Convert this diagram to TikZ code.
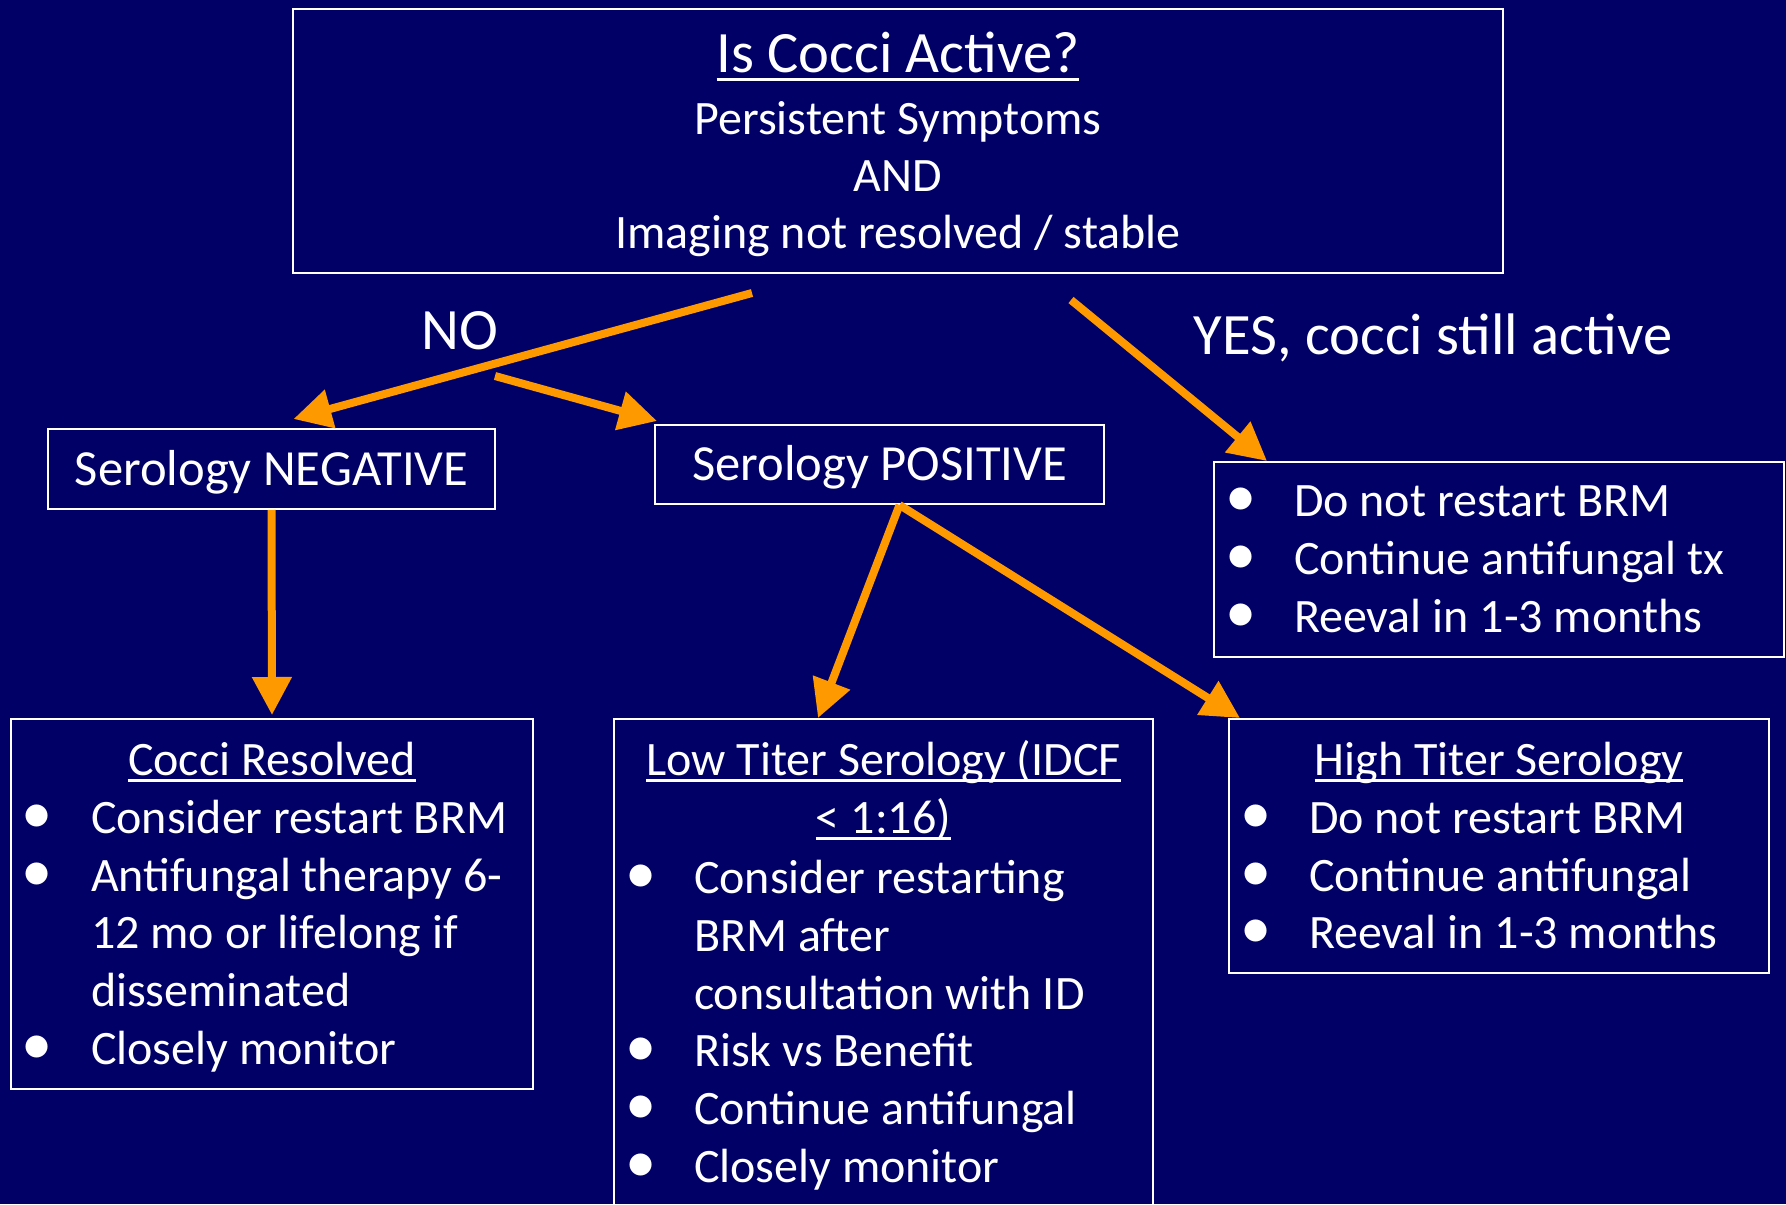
\documentclass[tikz,border=0pt]{standalone}
\usepackage{fontspec}
\setmainfont{Carlito}
\usepackage{tikz}
\usetikzlibrary{arrows.meta}
\definecolor{navy}{HTML}{000066}
\definecolor{text}{HTML}{FFFFFF}
\definecolor{orng}{HTML}{FF9900}
\newcommand{\ul}[1]{\setbox0\hbox{#1}\rlap{\rule[-0.14em]{\wd0}{0.06em}}\box0}
\newcommand{\bul}{\par\noindent\hspace*{5.5pt}\makebox[34.5pt][l]{\scalebox{1.3}{\textbullet}}\strut}
\newcommand{\cnt}{\par\noindent\hspace*{40pt}\strut}
\newcommand{\panel}[3]{\begin{minipage}[t][#2][t]{#1}\fontsize{24}{28.9}\selectfont\vspace*{8pt}#3\end{minipage}}
\tikzset{
  panel/.style={draw=text, line width=1pt, anchor=north west, inner sep=0pt, text=text},
  tag/.style={panel, font=\fontsize{25.3}{30.4}\selectfont, text height=16.3pt, text depth=0pt},
  lab/.style={text=text, font=\fontsize{29.3}{35.2}\selectfont}
}
\tikzset{flow/.style={draw=orng, line width=4pt, -{Triangle[length=19pt,width=19pt]}}}

\begin{document}
\begin{tikzpicture}[x=0.5pt, y=-0.5pt]
  \clip (0,0) rectangle (1786,1204);
  \fill[navy] (0,0) rectangle (1786,1204);
  % question
  \node[panel] (top) at (292,8) {\begin{minipage}[t][132pt][t]{605pt}\centering\vspace*{7.3pt}%
    {\fontsize{29.3}{35.2}\selectfont\strut\ul{Is Cocci Active?}\par}\vspace{2.2pt}%
    \fontsize{24}{28.6}\selectfont Persistent Symptoms\\AND\\Imaging not resolved / stable\end{minipage}};
  \node[lab] (no) at (460,331) {NO};
  \node[lab] (yes) at (1433,338) {YES, cocci still active};
  % serology
  \node[tag, minimum width=223.5pt, minimum height=40pt] (neg) at (47,428) {Serology NEGATIVE};
  \node[tag, minimum width=224.5pt, minimum height=39.5pt] (pos) at (654,424) {Serology POSITIVE};
  \node[panel] (act) at (1213,461) {\panel{285pt}{97.5pt}{\vspace*{-1pt}%
    \bul Do not restart BRM
    \bul Continue antifungal tx
    \bul Reeval in 1-3 months}};
  % outcomes
  \node[panel] (res) at (10,718) {\panel{261pt}{185pt}{%
    {\centering\strut\ul{Cocci Resolved}\par}
    \bul Consider restart BRM
    \bul Antifungal therapy 6-
    \cnt 12 mo or lifelong if
    \cnt disseminated
    \bul Closely monitor}};
  \node[panel] (low) at (613,718) {\panel{269.5pt}{260pt}{%
    {\centering\strut\ul{Low Titer Serology (IDCF}\par\strut\ul{< 1:16)}\par}\vspace{1.2pt}
    \bul Consider restarting
    \cnt BRM after
    \cnt consultation with ID
    \bul Risk vs Benefit
    \bul Continue antifungal
    \bul Closely monitor}};
  \node[panel] (high) at (1228,718) {\panel{270pt}{127pt}{%
    {\centering\strut\ul{High Titer Serology}\par}
    \bul Do not restart BRM
    \bul Continue antifungal
    \bul Reeval in 1-3 months}};
  % arrows
  \coordinate (noStart) at (752,293);
  \coordinate (noSplit) at (495,376);
  \coordinate (yesStart) at (1071,300);
  \draw[flow] (noStart) -- ([xshift=11pt,yshift=4.5pt]neg.north);
  \draw[flow] (noSplit) -- ([xshift=1.5pt,yshift=1.5pt]pos.north west);
  \draw[flow] (yesStart) -- ([xshift=27pt]act.north west);
  \draw[flow] (neg.south) -- ([yshift=1.5pt]res.north);
  \draw[flow] ([xshift=10pt]pos.south) -- ([xshift=102.5pt]low.north west);
  \draw[flow] ([xshift=10pt]pos.south) -- ([xshift=6pt]high.north west);
\end{tikzpicture}
\end{document}
